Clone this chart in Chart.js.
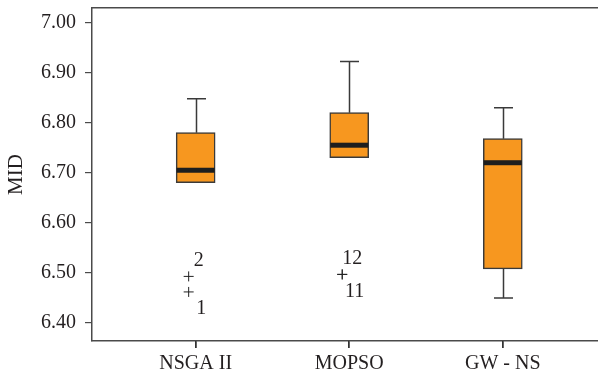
<!DOCTYPE html>
<html>
<head>
<meta charset="utf-8">
<script src="https://cdn.jsdelivr.net/npm/chart.js@4/dist/chart.umd.min.js"></script>
<style>
  html, body { margin: 0; padding: 0; background: #fff; overflow: hidden; }
  #wrap { position: relative; width: 598px; height: 377px; }
  #mid { display: block; }
</style>
</head>
<body>
<div id="wrap"><canvas id="mid"></canvas></div>
<script>
// box plot summaries per algorithm
let categories = ["NSGA II", "MOPSO", "GW - NS"];
let whiskerLow = [6.68, 6.73, 6.45];
let q1 = [6.68, 6.73, 6.508];
let median = [6.705, 6.755, 6.72];
let q3 = [6.78, 6.82, 6.768];
let whiskerHigh = [6.848, 6.922, 6.83];

// outliers: which box they belong to, value and case number
let outlierBox = [0, 0, 1, 1];
let outlierValues = [6.493, 6.462, 6.497, 6.497];
let outlierCases = ["2", "1", "12", "11"];

let yTicks = [6.4, 6.5, 6.6, 6.7, 6.8, 6.9, 7.0];

let fontFamily = "'Liberation Serif', 'DejaVu Serif', serif";
let textColor = "#231f20";
let axisColor = "#4a4a4a";

let boxData = categories.map(function (c, i) {
  return { x: i + 1, y: [q1[i], q3[i]] };
});
let outlierData = outlierValues.map(function (v, i) {
  return { x: outlierBox[i] + 1, y: v };
});

// whiskers, medians, x tick marks and case labels drawn on the library scales
let boxExtras = {
  id: "boxExtras",
  beforeDatasetsDraw: function (chart) {
    let ctx = chart.ctx;
    let x = chart.scales.x;
    let y = chart.scales.y;
    ctx.save();
    ctx.strokeStyle = "#3a3a3a";
    ctx.lineWidth = 1.5;
    for (let i = 0; i < categories.length; i++) {
      let cx = Math.round(x.getPixelForValue(i + 1)) + 0.5;
      let capHalf = 9.5;
      if (whiskerHigh[i] > q3[i]) {
        let top = y.getPixelForValue(whiskerHigh[i]);
        ctx.beginPath();
        ctx.moveTo(cx, y.getPixelForValue(q3[i]));
        ctx.lineTo(cx, top);
        ctx.moveTo(cx - capHalf, top);
        ctx.lineTo(cx + capHalf, top);
        ctx.stroke();
      }
      if (whiskerLow[i] < q1[i]) {
        let bot = y.getPixelForValue(whiskerLow[i]);
        ctx.beginPath();
        ctx.moveTo(cx, y.getPixelForValue(q1[i]));
        ctx.lineTo(cx, bot);
        ctx.moveTo(cx - capHalf, bot);
        ctx.lineTo(cx + capHalf, bot);
        ctx.stroke();
      }
    }
    ctx.restore();
  },
  beforeDatasetDraw: function (chart, args) {
    // case markers sit a little left of the box centre
    if (args.index === 1) {
      chart.ctx.save();
      chart.ctx.translate(-7, 0);
    }
  },
  afterDatasetDraw: function (chart, args) {
    if (args.index === 1) chart.ctx.restore();
  },
  afterDatasetsDraw: function (chart) {
    let ctx = chart.ctx;
    let x = chart.scales.x;
    let y = chart.scales.y;
    ctx.save();
    ctx.fillStyle = "#1e1e1e";
    for (let i = 0; i < categories.length; i++) {
      let cx = x.getPixelForValue(i + 1);
      let my = y.getPixelForValue(median[i]);
      ctx.fillRect(cx - 19, my - 2.5, 38, 5);
    }
    ctx.fillStyle = textColor;
    ctx.font = "20px " + fontFamily;
    ctx.textAlign = "center";
    ctx.textBaseline = "middle";
    let seen = {};
    for (let i = 0; i < outlierValues.length; i++) {
      let b = outlierBox[i];
      let n = seen[b] || 0;
      seen[b] = n + 1;
      let px = x.getPixelForValue(b + 1);
      let py = y.getPixelForValue(outlierValues[i]);
      if (n % 2 === 0) {
        ctx.fillText(outlierCases[i], px + 3, py - 16);
      } else {
        ctx.fillText(outlierCases[i], px + 5.5, py + 17);
      }
    }
    ctx.restore();
  },
  afterDraw: function (chart) {
    // tick marks under the category axis, same pixel snapping as the grid
    let ctx = chart.ctx;
    let x = chart.scales.x;
    let base = chart.chartArea.bottom;
    ctx.save();
    ctx.strokeStyle = "#333";
    ctx.lineWidth = 1.5;
    ctx.beginPath();
    for (let i = 0; i < categories.length; i++) {
      let tx = Math.round(x.getPixelForValue(i + 1) - 0.75) + 0.75;
      ctx.moveTo(tx, base);
      ctx.lineTo(tx, base + 7);
    }
    ctx.stroke();
    ctx.restore();
  },
};

function noEdgePadding(scale) {
  scale.paddingTop = 0;
  scale.paddingBottom = 0;
  scale.paddingLeft = 0;
  scale.paddingRight = 0;
}

let chart = new Chart(document.getElementById("mid").getContext("2d"), {
  type: "bar",
  data: {
    datasets: [
      {
        type: "bar",
        label: "box",
        data: boxData,
        xAxisID: "x",
        yAxisID: "y",
        backgroundColor: "#f7971f",
        borderColor: "#3a3a3a",
        borderWidth: 1.5,
        borderSkipped: false,
        barThickness: 39,
        grouped: false,
        order: 2,
      },
      {
        type: "scatter",
        label: "outliers",
        data: outlierData,
        xAxisID: "x",
        yAxisID: "y",
        pointStyle: "cross",
        radius: 5,
        hoverRadius: 5,
        borderColor: "#222",
        borderWidth: 1,
        order: 1,
      },
    ],
  },
  options: {
    responsive: true,
    maintainAspectRatio: false,
    animation: false,
    layout: {
      autoPadding: false,
      padding: { top: 8, right: 0, left: 0, bottom: 0 },
    },
    plugins: {
      legend: { display: false },
      tooltip: { enabled: false },
    },
    scales: {
      x: {
        type: "linear",
        position: "bottom",
        min: 0.325,
        max: 3.62,
        offset: false,
        afterBuildTicks: function (scale) {
          scale.ticks = categories.map(function (c, i) {
            return { value: i + 1 };
          });
        },
        afterFit: function (scale) {
          scale.height = 36;
          noEdgePadding(scale);
        },
        ticks: {
          autoSkip: false,
          maxRotation: 0,
          padding: 4,
          color: textColor,
          font: { family: fontFamily, size: 20 },
          callback: function (value) {
            return categories[value - 1];
          },
        },
        grid: {
          offset: false,
          drawOnChartArea: false,
          drawTicks: true,
          tickLength: 7,
          color: "#333",
          lineWidth: 1.5,
        },
        border: { display: true, color: axisColor, width: 1.5 },
      },
      xTop: {
        type: "linear",
        position: "top",
        min: 0,
        max: 1,
        afterFit: function (scale) {
          scale.height = 0;
          noEdgePadding(scale);
        },
        ticks: { display: false },
        grid: { display: false, drawTicks: false },
        border: { display: true, color: axisColor, width: 1.5 },
      },
      y: {
        type: "linear",
        position: "left",
        min: 6.364,
        max: 7.029,
        afterBuildTicks: function (scale) {
          scale.ticks = yTicks.map(function (v) {
            return { value: v };
          });
        },
        afterFit: function (scale) {
          scale.width = 92;
          noEdgePadding(scale);
        },
        ticks: {
          padding: 9,
          color: textColor,
          font: { family: fontFamily, size: 20 },
          callback: function (value) {
            return Number(value).toFixed(2);
          },
        },
        grid: {
          offset: false,
          drawOnChartArea: false,
          drawTicks: true,
          tickLength: 7,
          color: axisColor,
          lineWidth: 1.2,
        },
        border: { display: true, color: axisColor, width: 1.5 },
        title: {
          display: true,
          text: "MID",
          color: textColor,
          font: { family: fontFamily, size: 21 },
          padding: { top: 4, bottom: 0 },
        },
      },
    },
  },
  plugins: [boxExtras],
});
</script>
</body>
</html>
